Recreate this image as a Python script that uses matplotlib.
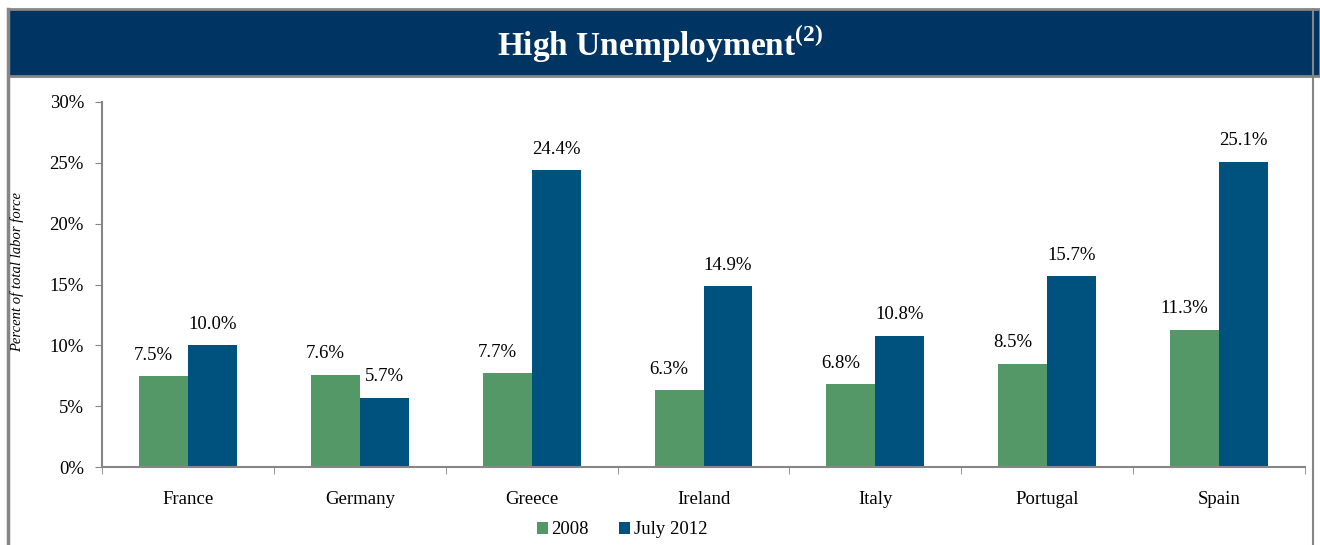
import numpy as np
import matplotlib.pyplot as plt
from matplotlib.patches import Rectangle
from matplotlib.lines import Line2D

countries = ["France", "Germany", "Greece", "Ireland", "Italy", "Portugal", "Spain"]
rate_2008 = [7.5, 7.6, 7.7, 6.3, 6.8, 8.5, 11.3]
rate_2012 = [10.0, 5.7, 24.4, 14.9, 10.8, 15.7, 25.1]
series_names = ["2008", "July 2012"]

green = "#559868"
blue = "#00527e"
navy = "#003462"
grey = "#868686"

plt.rcParams["font.family"] = ["Liberation Serif", "DejaVu Serif"]
plt.rcParams["mathtext.fontset"] = "custom"
plt.rcParams["mathtext.rm"] = "Liberation Serif"
plt.rcParams["mathtext.bf"] = "Liberation Serif:bold"

fig = plt.figure(figsize=(13.2, 5.45), dpi=100)

# frame and title banner
fig.add_artist(Line2D([8/1320, 8/1320], [0, 1 - 9/545], color=grey, lw=2.5))
fig.add_artist(Line2D([1313/1320, 1313/1320], [0, 1 - 9/545], color=grey, lw=1.5))
fig.add_artist(Rectangle((8/1320, 1 - 76/545), 1 - 8/1320, 67/545, facecolor=navy,
                         edgecolor=grey, lw=2, transform=fig.transFigure))
fig.text(0.5, 1 - 44/545, r"High Unemployment$^{\mathbf{(2)}}$", color="white",
         fontsize=24, fontweight="bold", ha="center", va="center")

ax = fig.add_axes([102/1320, 1 - 467/545, (1305 - 102)/1320, (467 - 102)/545])
x = np.arange(len(countries))
w = 0.285
b1 = ax.bar(x - w/2, rate_2008, w, color=green, label=series_names[0])
b2 = ax.bar(x + w/2, rate_2012, w, color=blue, label=series_names[1])

for bars, vals in [(b1, rate_2008), (b2, rate_2012)]:
    for r, v in zip(bars, vals):
        ax.text(r.get_x() + r.get_width()/2 - (0.06 if bars is b1 else 0), v + 1.0,
                f"{v:.1f}%", ha="center", va="bottom", fontsize=13.5)

ax.set_xlim(-0.5, len(countries) - 0.5)
ax.set_ylim(0, 30)
ax.set_yticks(range(0, 31, 5))
ax.set_yticklabels([f"{t}%" for t in range(0, 31, 5)], fontsize=13.5)
ax.set_xticks(x)
ax.set_xticklabels(countries, fontsize=13.5)
ax.set_xticks(np.arange(-0.5, len(countries)), minor=True)
ax.tick_params(axis="x", which="major", length=0, pad=17)
ax.tick_params(axis="x", which="minor", length=5, color=grey)
ax.tick_params(axis="y", length=5, color=grey, pad=8)
for s in ["top", "right"]:
    ax.spines[s].set_visible(False)
for s in ["left", "bottom"]:
    ax.spines[s].set_color(grey)
    ax.spines[s].set_linewidth(1.5)

fig.text(17/1320, 1 - 272/545, "Percent of total labor force", rotation=90,
         style="italic", fontsize=10.5, ha="center", va="center")

fig.legend(handles=[b1, b2], loc="center", bbox_to_anchor=(622/1320, 1 - 530/545),
           ncol=2, frameon=False, fontsize=13.5, handlelength=0.6, handleheight=0.6,
           handletextpad=0.2, columnspacing=1.6)

fig.savefig("out.png", dpi=100)
